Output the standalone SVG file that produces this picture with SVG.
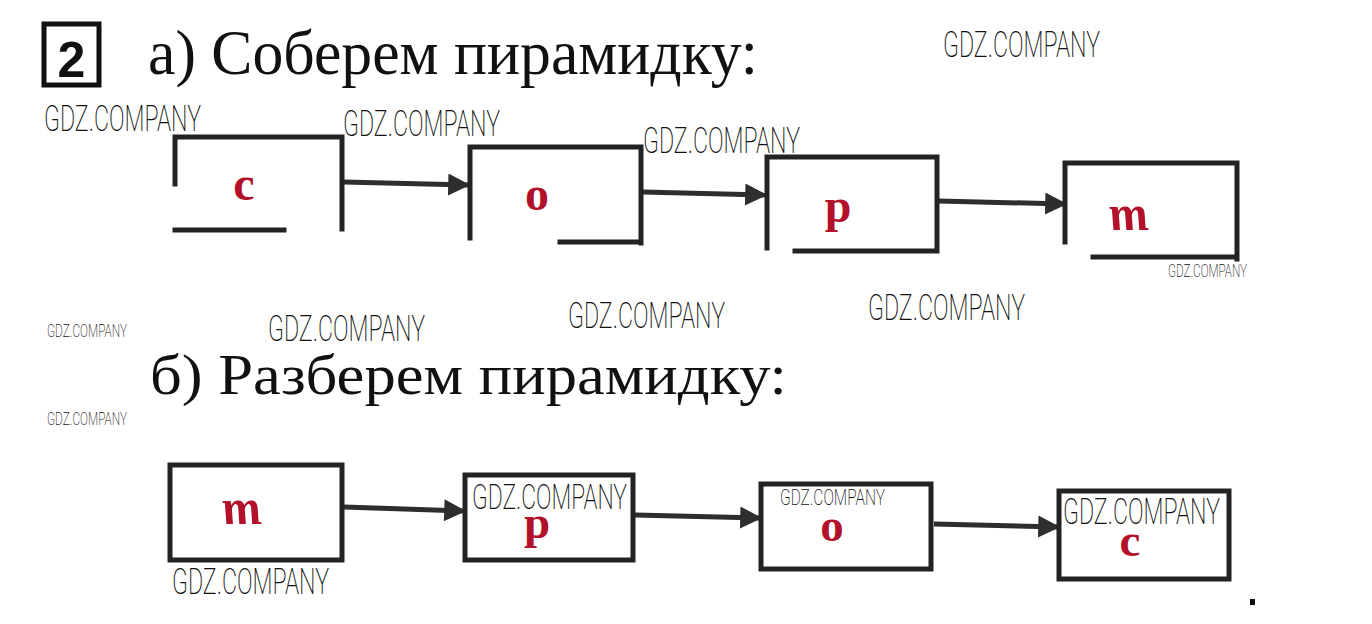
<svg xmlns="http://www.w3.org/2000/svg" width="1372" height="624" viewBox="0 0 1372 624">
<style>
.box{fill:none;stroke:#232323;stroke-width:5;stroke-linecap:square}
.edge{fill:none;stroke:#2e2e2e;stroke-width:5}
.let{font-family:"Liberation Serif",serif;font-weight:bold;fill:#b3112a;text-anchor:middle}
.wm{font-family:Roboto,"Liberation Sans",sans-serif;font-weight:200;fill:#111}
.title{font-family:"Liberation Serif",serif;fill:#111}
</style>
<defs>
<marker id="ah" viewBox="0 0 10 10" refX="9" refY="5" markerWidth="6" markerHeight="4.4" markerUnits="strokeWidth" orient="auto">
<path d="M0,0 L10,5 L0,10 z" fill="#2e2e2e"/>
</marker>
</defs>
<rect width="1372" height="624" fill="#fff"/>

<g id="header">
<rect x="44" y="24" width="55" height="61" fill="none" stroke="#111" stroke-width="5"/>
<text x="71.5" y="77" font-family="Liberation Sans,sans-serif" font-weight="bold" font-size="50" text-anchor="middle" fill="#111">2</text>
<text class="title" x="148" y="74" font-size="64" textLength="610" lengthAdjust="spacingAndGlyphs">а) Соберем пирамидку:</text>
<text class="title" x="150" y="394" font-size="56" textLength="637" lengthAdjust="spacingAndGlyphs">б) Разберем пирамидку:</text>
</g>

<g id="connectors">
<line class="edge" x1="344" y1="182" x2="468" y2="185" marker-end="url(#ah)"/>
<line class="edge" x1="643" y1="192" x2="765" y2="195" marker-end="url(#ah)"/>
<line class="edge" x1="939" y1="201" x2="1065" y2="204" marker-end="url(#ah)"/>
<line class="edge" x1="344" y1="507" x2="464" y2="511" marker-end="url(#ah)"/>
<line class="edge" x1="635" y1="515" x2="760" y2="518" marker-end="url(#ah)"/>
<line class="edge" x1="934" y1="524" x2="1058" y2="527" marker-end="url(#ah)"/>
</g>

<g id="node-top-s">
<path class="box" d="M175,184 V137 H342 V229 M175,230 H284"/>
<text class="let" x="244" y="200" font-size="48">с</text>
</g>
<g id="node-top-o">
<path class="box" d="M470,238 V147 H641 V243 M560,242 H641"/>
<text class="let" x="537" y="210" font-size="48">о</text>
</g>
<g id="node-top-r">
<path class="box" d="M767,248 V157 H937 V251 M795,251 H937"/>
<text class="let" x="838" y="222" font-size="48">р</text>
</g>
<g id="node-top-t">
<path class="box" d="M1065,242 V163 H1237 V259 M1093,257 H1237"/>
<text class="let" transform="translate(1132,230) skewX(14)" font-size="50" font-style="italic">т</text>
</g>

<g id="node-bot-t">
<rect class="box" x="170" y="465" width="172" height="95"/>
<text class="let" transform="translate(245,524) skewX(14)" font-size="50" font-style="italic">т</text>
</g>
<g id="node-bot-r">
<rect class="box" x="465" y="475" width="168" height="85"/>
<text class="let" x="537" y="538" font-size="47">р</text>
</g>
<g id="node-bot-o">
<rect class="box" x="761" y="484" width="170" height="85"/>
<text class="let" x="832" y="541" font-size="47">о</text>
</g>
<g id="node-bot-s">
<rect class="box" x="1059" y="491" width="170" height="88"/>
<text class="let" x="1130" y="556" font-size="47">с</text>
</g>

<g id="watermarks">
<text class="wm" x="943" y="57" font-size="37" textLength="157" lengthAdjust="spacingAndGlyphs">GDZ.COMPANY</text>
<text class="wm" x="44" y="131" font-size="37" textLength="157" lengthAdjust="spacingAndGlyphs">GDZ.COMPANY</text>
<text class="wm" x="343" y="136" font-size="37" textLength="157" lengthAdjust="spacingAndGlyphs">GDZ.COMPANY</text>
<text class="wm" x="643" y="153" font-size="37" textLength="157" lengthAdjust="spacingAndGlyphs">GDZ.COMPANY</text>
<text class="wm" x="1168" y="277" font-size="19" textLength="79" lengthAdjust="spacingAndGlyphs">GDZ.COMPANY</text>
<text class="wm" x="47" y="337" font-size="18" textLength="80" lengthAdjust="spacingAndGlyphs">GDZ.COMPANY</text>
<text class="wm" x="268" y="341" font-size="37" textLength="157" lengthAdjust="spacingAndGlyphs">GDZ.COMPANY</text>
<text class="wm" x="568" y="328" font-size="37" textLength="157" lengthAdjust="spacingAndGlyphs">GDZ.COMPANY</text>
<text class="wm" x="868" y="320" font-size="37" textLength="157" lengthAdjust="spacingAndGlyphs">GDZ.COMPANY</text>
<text class="wm" x="47" y="425" font-size="18" textLength="80" lengthAdjust="spacingAndGlyphs">GDZ.COMPANY</text>
<text class="wm" x="472" y="509" font-size="35" textLength="155" lengthAdjust="spacingAndGlyphs">GDZ.COMPANY</text>
<text class="wm" x="780" y="505" font-size="22" textLength="105" lengthAdjust="spacingAndGlyphs">GDZ.COMPANY</text>
<text class="wm" x="1063" y="524" font-size="36" textLength="157" lengthAdjust="spacingAndGlyphs">GDZ.COMPANY</text>
<text class="wm" x="172" y="594" font-size="37" textLength="157" lengthAdjust="spacingAndGlyphs">GDZ.COMPANY</text>
</g>
<rect x="1250" y="599" width="5" height="6" fill="#111"/>
</svg>
